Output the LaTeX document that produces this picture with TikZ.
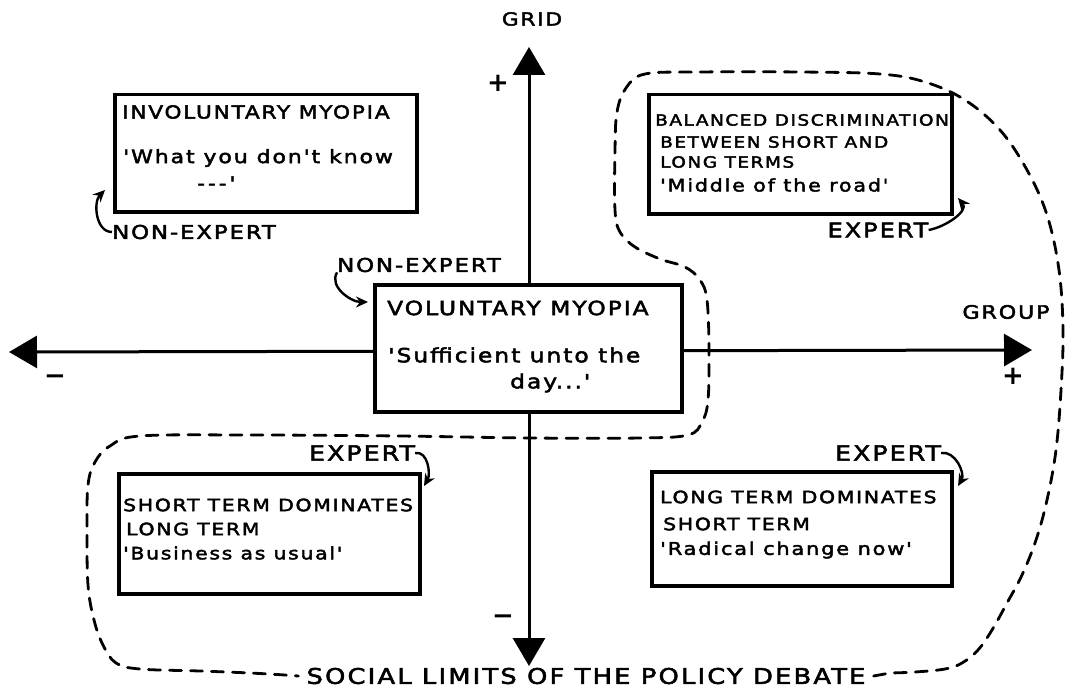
\documentclass[tikz,border=0pt]{standalone}
\usepackage{fontspec}
\setmainfont{DejaVu Sans}
\newfontfamily\hand[FakeStretch=1.2,LetterSpace=10,FakeBold=2.5]{DejaVu Sans}
\newcommand\hfs[1]{\hand\fontsize{#1}{#1}\selectfont}
\usetikzlibrary{arrows.meta}
\tikzset{
  box/.style={draw, line width=3.5pt, fill=white, anchor=north west, inner sep=0pt},
  tx/.style={anchor=west, inner sep=0pt, font=\hfs{17}},
  lab/.style={inner sep=0pt, font=\hfs{19}},
  sign/.style={inner sep=0pt, font=\bfseries\fontsize{26}{28}\selectfont},
  axis/.style={line width=3pt, {Triangle[length=28pt,width=32pt]}-{Triangle[length=28pt,width=32pt]}},
  hook/.style={line width=2.4pt, -{Stealth[length=12pt,width=11pt]}},
  bound/.style={line width=2.8pt, dash pattern=on 12pt off 9pt, line cap=round},
}
\begin{document}
\begin{tikzpicture}[x=1pt,y=-1pt]
\useasboundingbox[fill=white] (0,0) rectangle (1067,690);

% axes
\coordinate (top) at (529,47);
\coordinate (bot) at (529,666);
\coordinate (lft) at (9,352);
\coordinate (rgt) at (1032,350);
\draw[axis] (top) -- (bot);
\draw[axis] (lft) -- (rgt);
\node[lab, font=\hfs{18}] (grid) at (532,19) {GRID};
\node[lab, font=\hfs{18.5}] (group) at (1006,312) {GROUP};
\node[sign] (pt) at (498,83) {+};
\node[sign] (pr) at (1013,376) {+};
\node[sign] (ml) at (55,380) {−};
\node[sign] (mb) at (503,620) {−};

% boundary of the policy debate
\node[lab, font=\hfs{21.5}, inner sep=8pt] (soc) at (586,676) {SOCIAL LIMITS OF THE POLICY DEBATE};
\draw[bound] (soc.east) -- plot[smooth,tension=0.6] coordinates {
 (890,673) (915,672) (945,669) (962,663) (978,650) (992,630) (1007,603) (1022,575)
 (1036,540) (1047,500) (1056,450) (1061,390) (1063,330) (1059,270) (1047,215)
 (1027,170) (1000,130) (965,100) (925,82) (880,74) (800,72) (700,72) (645,74)
 (626,88) (617,112) (615,150) (615,210) (620,232) (635,247) (660,259) (685,267)
 (700,280) (707,300) (709,350) (708,400) (702,422) (688,435) (640,438) (530,438)
 (400,436) (250,435) (140,436) (110,446) (95,462) (88,485) (87,530) (88,585)
 (94,620) (103,645) (116,663) (140,669) (200,671) (250,673) (285,675)} -- (soc.west);

% involuntary myopia
\node[box, minimum width=302pt, minimum height=117pt] (inv) at (113,93) {};
\node[tx, font=\hfs{18}] (inv1) at (122,112) {INVOLUNTARY MYOPIA};
\node[tx, font=\hfs{18.4}] (inv2) at (123,158) {'What you don't know};
\node[tx, font=\hfs{18}] (inv3) at (197,183) {-\,-\,-\,'};
\node[lab, anchor=west] (ne1) at (112,232) {NON-EXPERT};
\coordinate (h1) at (105,190);
\draw[hook] (ne1.west) to[out=180,in=225] (h1);

% balanced discrimination
\node[box, minimum width=303pt, minimum height=119pt] (bal) at (647,93) {};
\node[tx, font=\hfs{15.4}] (bal1) at (655,120) {BALANCED DISCRIMINATION};
\node[tx, font=\hfs{15.4}] (bal2) at (660,142) {BETWEEN SHORT AND};
\node[tx, font=\hfs{15.4}] (bal3) at (660,162) {LONG TERMS};
\node[tx, font=\hfs{17.3}] (bal4) at (660,185) {'Middle of the road'};
\node[lab, font=\hfs{20}] (ex1) at (878,230) {EXPERT};
\coordinate (h2) at (958,198);
\draw[hook] (ex1.east) to[out=10,in=-50] (h2);

% voluntary myopia
\node[box, minimum width=307pt, minimum height=127pt] (vol) at (373,283) {};
\node[tx, font=\hfs{19.5}] (vol1) at (387,308) {VOLUNTARY MYOPIA};
\node[tx, font=\hfs{19.5}] (vol2) at (388,355) {'Sufficient unto the};
\node[tx, font=\hfs{19.5}] (vol3) at (510,383) {day...'};
\node[lab, anchor=west] (ne2) at (337,265) {NON-EXPERT};
\coordinate (h3) at (368,302);
\draw[hook] (ne2.south west) to[out=-120,in=180] (h3);

% short term dominates
\node[box, minimum width=301pt, minimum height=120pt] (sh) at (117,472) {};
\node[tx] (sh1) at (123,505) {SHORT TERM DOMINATES};
\node[tx] (sh2) at (126,529) {LONG TERM};
\node[tx] (sh3) at (123,553) {'Business as usual'};
\node[lab, font=\hfs{21}] (ex2) at (362,453) {EXPERT};
\coordinate (h4) at (424,486);
\draw[hook] (ex2.east) to[out=10,in=60] (h4);

% long term dominates
\node[box, minimum width=300pt, minimum height=114pt] (lo) at (650,470) {};
\node[tx] (lo1) at (660,497) {LONG TERM DOMINATES};
\node[tx] (lo2) at (663,524) {SHORT TERM};
\node[tx, font=\hfs{17.5}] (lo3) at (660,550) {'Radical change now'};
\node[lab, font=\hfs{21}] (ex3) at (888,453) {EXPERT};
\coordinate (h5) at (958,486);
\draw[hook] (ex3.east) to[out=10,in=60] (h5);
\end{tikzpicture}
\end{document}
